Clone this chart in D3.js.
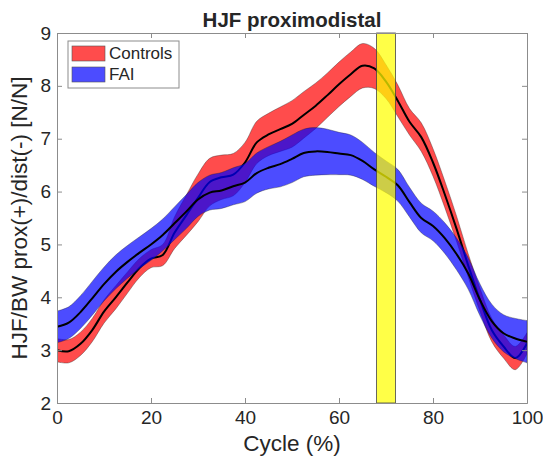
<!DOCTYPE html>
<html lang="en">
<head>
<meta charset="utf-8"/>
<script src="https://cdnjs.cloudflare.com/ajax/libs/d3/7.8.5/d3.min.js"></script>
<style>
  body { margin: 0; background: #fff; }
  text { font-family: Helvetica, Arial, "Liberation Sans", sans-serif; fill: #262626; }
</style>
</head>
<body>
<svg id="chart"></svg>
<script>
var cycle = [0, 2.5, 5, 7.5, 10, 12.5, 15, 17.5, 20, 22.5, 25, 27.5, 30, 32.5, 35, 37.5, 40,
  42.5, 45, 47.5, 50, 52.5, 55, 57.5, 60, 62.5, 65, 67.5, 70, 72.5, 75, 77.5, 80, 82.5, 85,
  87.5, 90, 92.5, 95, 97.5, 100];

// Controls: mean and half-width of shaded band
var controlsMean = [3.00, 2.98, 3.12, 3.38, 3.73, 4.00, 4.28, 4.55, 4.73, 4.80, 5.22, 5.55,
  5.88, 6.18, 6.27, 6.32, 6.55, 6.93, 7.08, 7.18, 7.28, 7.45, 7.62, 7.82, 8.03, 8.22, 8.38,
  8.33, 8.08, 7.72, 7.32, 7.03, 6.55, 5.95, 5.30, 4.60, 3.95, 3.38, 3.07, 2.85, 3.13];
var controlsSd = [0.22, 0.22, 0.22, 0.22, 0.22, 0.22, 0.2, 0.18, 0.17, 0.2, 0.3, 0.38, 0.45,
  0.45, 0.42, 0.4, 0.38, 0.4, 0.4, 0.42, 0.44, 0.44, 0.43, 0.42, 0.42, 0.42, 0.42, 0.38, 0.32,
  0.3, 0.25, 0.27, 0.26, 0.25, 0.24, 0.22, 0.22, 0.22, 0.22, 0.22, 0.2];

// FAI group
var faiMean = [3.44, 3.52, 3.72, 3.98, 4.25, 4.48, 4.67, 4.84, 5.00, 5.18, 5.40, 5.62, 5.85,
  5.98, 6.02, 6.10, 6.17, 6.35, 6.45, 6.52, 6.62, 6.73, 6.76, 6.75, 6.72, 6.69, 6.58, 6.42,
  6.28, 6.12, 5.80, 5.50, 5.35, 5.12, 4.82, 4.45, 3.95, 3.55, 3.32, 3.22, 3.16];
var faiSd = [0.3, 0.3, 0.31, 0.32, 0.32, 0.32, 0.31, 0.3, 0.3, 0.3, 0.31, 0.32, 0.32, 0.33,
  0.34, 0.35, 0.36, 0.38, 0.4, 0.43, 0.45, 0.45, 0.45, 0.43, 0.4, 0.38, 0.35, 0.32, 0.3, 0.3,
  0.28, 0.28, 0.28, 0.29, 0.3, 0.3, 0.3, 0.32, 0.35, 0.38, 0.4];

var highlight = [68, 72];   // shaded window
var xTicks = [0, 20, 40, 60, 80, 100];
var yTicks = [2, 3, 4, 5, 6, 7, 8, 9];

var width = 543, height = 457;
var margin = {top: 33, right: 16, bottom: 54, left: 57};

var svg = d3.select("#chart").attr("width", width).attr("height", height);

var x = d3.scaleLinear().domain([0, 100]).range([margin.left, width - margin.right]);
var y = d3.scaleLinear().domain([2, 9]).range([height - margin.bottom, margin.top]);

svg.append("defs").append("clipPath").attr("id", "clip")
  .append("rect")
  .attr("x", x(0)).attr("y", y(9))
  .attr("width", x(100) - x(0)).attr("height", y(2) - y(9));

var plot = svg.append("g").attr("clip-path", "url(#clip)");

function rows(mean, sd) {
  return cycle.map(function(c, i) { return {c: c, m: mean[i], s: sd[i]}; });
}

var area = d3.area()
  .x(function(d) { return x(d.c); })
  .y0(function(d) { return y(d.m - d.s); })
  .y1(function(d) { return y(d.m + d.s); })
  .curve(d3.curveCatmullRom);

var line = d3.line()
  .x(function(d) { return x(d.c); })
  .y(function(d) { return y(d.m); })
  .curve(d3.curveCatmullRom);

var groups = [
  {name: "Controls", color: "#ff0000", data: rows(controlsMean, controlsSd)},
  {name: "FAI", color: "#0000ff", data: rows(faiMean, faiSd)}
];

groups.forEach(function(g) {
  plot.append("path")
    .datum(g.data)
    .attr("d", area)
    .attr("fill", g.color)
    .attr("fill-opacity", 0.7)
    .attr("stroke", "#222")
    .attr("stroke-opacity", 0.6)
    .attr("stroke-width", 0.6);
  plot.append("path")
    .datum(g.data)
    .attr("d", line)
    .attr("fill", "none")
    .attr("stroke", "#000")
    .attr("stroke-width", 2);
});

// highlighted window
svg.append("rect")
  .attr("x", x(highlight[0]))
  .attr("y", y(9))
  .attr("width", x(highlight[1]) - x(highlight[0]))
  .attr("height", y(2) - y(9))
  .attr("fill", "#ffff00")
  .attr("fill-opacity", 0.72)
  .attr("stroke", "#444")
  .attr("stroke-width", 0.8);

// axes box + ticks
var axisColor = "#8c8c8c";
var xAxis = svg.append("g")
  .attr("transform", "translate(0," + y(2) + ")")
  .call(d3.axisBottom(x).tickValues(xTicks).tickFormat(d3.format("d"))
    .tickSizeInner(-5).tickSizeOuter(0).tickPadding(8));
var yAxis = svg.append("g")
  .attr("transform", "translate(" + x(0) + ",0)")
  .call(d3.axisLeft(y).tickValues(yTicks).tickFormat(d3.format("d"))
    .tickSizeInner(-5).tickSizeOuter(0).tickPadding(6));
var xTop = svg.append("g")
  .attr("transform", "translate(0," + y(9) + ")")
  .call(d3.axisTop(x).tickValues(xTicks).tickSize(-5).tickFormat(""));
var yRight = svg.append("g")
  .attr("transform", "translate(" + x(100) + ",0)")
  .call(d3.axisRight(y).tickValues(yTicks).tickSize(-5).tickFormat(""));

[xAxis, yAxis, xTop, yRight].forEach(function(a) {
  a.select(".domain").attr("stroke", axisColor);
  a.selectAll(".tick line").attr("stroke", axisColor);
  a.selectAll(".tick text")
    .attr("font-size", 19)
    .attr("fill", "#262626")
    .style("font-family", "Helvetica, Arial, 'Liberation Sans', sans-serif");
});

// labels
svg.append("text")
  .attr("x", (x(0) + x(100)) / 2)
  .attr("y", 27)
  .attr("text-anchor", "middle")
  .attr("font-size", 20.5)
  .attr("font-weight", "bold")
  .attr("fill", "#000")
  .text("HJF proximodistal");

svg.append("text")
  .attr("x", (x(0) + x(100)) / 2)
  .attr("y", 451)
  .attr("text-anchor", "middle")
  .attr("font-size", 22.5)
  .text("Cycle (%)");

svg.append("text")
  .attr("transform", "translate(27," + (y(2) + y(9)) / 2 + ") rotate(-90)")
  .attr("text-anchor", "middle")
  .attr("font-size", 22.5)
  .text("HJF/BW prox(+)/dist(-) [N/N]");

// legend
var legend = svg.append("g").attr("transform", "translate(68,41)");
legend.append("rect")
  .attr("width", 111).attr("height", 47)
  .attr("fill", "#fff")
  .attr("stroke", "#8c8c8c");
groups.forEach(function(g, i) {
  legend.append("rect")
    .attr("x", 4).attr("y", 5 + i * 21)
    .attr("width", 33).attr("height", 15)
    .attr("fill", g.color)
    .attr("fill-opacity", 0.7)
    .attr("stroke", "#555")
    .attr("stroke-width", 0.6);
  legend.append("text")
    .attr("x", 41).attr("y", 18 + i * 21)
    .attr("font-size", 17)
    .attr("fill", "#000")
    .text(g.name);
});
</script>
</body>
</html>
